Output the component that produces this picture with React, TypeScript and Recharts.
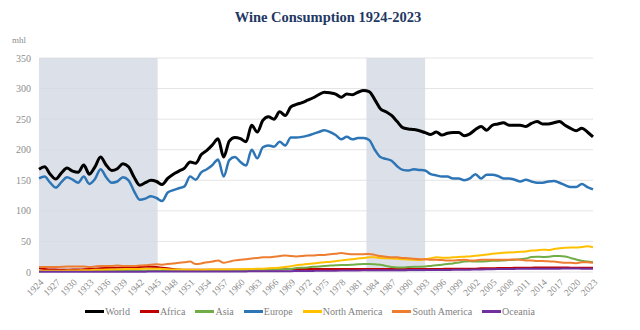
import React from 'react';
import { LineChart, Line, XAxis, YAxis, CartesianGrid, ReferenceArea } from 'recharts';

const years = [
  1924, 1925, 1926, 1927, 1928, 1929, 1930, 1931, 1932, 1933,
  1934, 1935, 1936, 1937, 1938, 1939, 1940, 1941, 1942, 1943,
  1944, 1945, 1946, 1947, 1948, 1949, 1950, 1951, 1952, 1953,
  1954, 1955, 1956, 1957, 1958, 1959, 1960, 1961, 1962, 1963,
  1964, 1965, 1966, 1967, 1968, 1969, 1970, 1971, 1972, 1973,
  1974, 1975, 1976, 1977, 1978, 1979, 1980, 1981, 1982, 1983,
  1984, 1985, 1986, 1987, 1988, 1989, 1990, 1991, 1992, 1993,
  1994, 1995, 1996, 1997, 1998, 1999, 2000, 2001, 2002, 2003,
  2004, 2005, 2006, 2007, 2008, 2009, 2010, 2011, 2012, 2013,
  2014, 2015, 2016, 2017, 2018, 2019, 2020, 2021, 2022, 2023,
];

const world = [
  168, 172, 160, 152, 162, 170, 165, 163, 175, 160,
  172, 188, 175, 166, 169, 177, 172, 155, 142, 146,
  150, 148, 143, 153, 160, 165, 170, 180, 178, 192,
  199, 208, 218, 188, 214, 220, 218, 213, 240, 229,
  248, 254, 250, 262, 256, 270, 274, 277, 281, 285,
  290, 294, 293, 291, 286, 291, 290, 294, 297, 295,
  282, 267, 262, 256, 246, 236, 234, 233, 231, 228,
  225, 229, 224, 227, 228, 228, 223, 226, 233, 238,
  232, 240, 242, 244, 240, 240, 240, 238, 243, 246,
  242, 242, 244, 246, 240, 235, 231, 235, 229, 221,
];

const africa = [
  6, 5, 4, 4, 3.5, 3.5, 4, 4, 4.5, 5,
  5.5, 6, 6.5, 7, 7, 7.5, 8, 8, 8, 8.5,
  8.5, 8, 7, 6, 5, 4, 3.5, 3.5, 3.5, 3.5,
  3.5, 3.5, 3.5, 3.5, 3.5, 3.5, 3.5, 3.5, 3.5, 4,
  4, 4, 4, 4, 4.5, 4.5, 5, 5, 5, 5,
  5, 5, 5, 5, 5, 5, 5, 5, 5, 5,
  5, 5, 5, 5, 5, 5, 5, 5, 5, 5,
  5, 5, 5, 5.5, 5.5, 5.5, 5.5, 5.5, 5.5, 6,
  6, 6, 6.5, 6.5, 6.5, 7, 7, 7, 7, 7.5,
  7.5, 7.5, 7.5, 7.5, 7.5, 7, 7, 7, 7, 7,
];

const asia = [
  1.5, 1.5, 1.5, 1.5, 1.5, 1.5, 1.5, 1.5, 1.5, 1.5,
  1.5, 1.5, 1.6, 1.6, 1.6, 1.6, 1.7, 1.7, 1.7, 1.7,
  1.8, 1.8, 1.8, 1.9, 1.9, 2, 2, 2, 2.1, 2.1,
  2.2, 2.3, 2.4, 2.5, 2.6, 2.7, 2.8, 3, 3.2, 3.4,
  3.6, 3.8, 4, 4.3, 4.6, 5, 6.5, 7, 7.5, 8.5,
  9, 10, 10.5, 11, 11.5, 11.5, 12, 12.5, 13, 13,
  12.5, 12, 10, 8, 7.5, 7.5, 8, 8.5, 8.5, 9,
  10, 11, 12, 13, 14, 15.5, 17, 17.5, 17, 17,
  17.5, 18.5, 18.5, 19, 19.5, 20, 21, 22, 24.5, 25,
  24.5, 25, 26, 26, 25.5, 23, 20.5, 18.5, 17, 16,
];

const europe = [
  153, 156, 146, 138, 147, 155, 151, 146, 156, 144,
  152, 168, 155, 146, 148, 155, 150, 132, 118, 120,
  124, 121, 116, 130, 134, 137, 140, 156, 151, 163,
  168, 175, 184, 156, 183, 188, 180, 174, 200, 186,
  204, 207, 205, 213, 207, 220, 220, 221, 223, 226,
  229, 232, 229, 224, 217, 221, 217, 219, 219, 216,
  200, 188, 185, 182, 173, 167, 166, 168, 167, 166,
  160, 158, 156, 156, 153, 153, 150, 153, 160, 153,
  159, 159, 157, 153, 153, 151, 148, 151, 148, 146,
  146, 148, 149, 146, 142, 139, 139, 144, 139, 135,
];

const northAmerica = [
  2, 2, 2, 2, 2, 2.5, 2.5, 2.5, 3, 3,
  3.5, 3.5, 4, 4, 4.5, 4.5, 5, 5, 5, 5.5,
  5.5, 5.5, 5, 4.5, 4, 4, 3.8, 3.8, 3.8, 3.8,
  3.8, 4, 4, 4, 4.2, 4.4, 4.6, 4.8, 5, 5.2,
  5.5, 6, 6.5, 7, 8, 9.5, 11, 12, 13, 14,
  15, 16, 16.5, 17.5, 19, 20, 21, 22, 23, 24,
  24, 23, 22.5, 22, 21.5, 21, 20.5, 20, 19.5, 21,
  22.5, 24, 23.5, 23.5, 24, 24.5, 25, 25.5, 26.5, 27.5,
  28.5, 30, 30.5, 31.5, 32, 32.5, 33, 33.5, 35, 35.5,
  36.5, 36, 37.5, 39, 39.5, 40, 40, 41, 42, 40.5,
];

const southAmerica = [
  8, 8, 8, 8, 8.5, 9, 9, 9, 9, 8,
  9, 10, 10, 10, 10.5, 10, 10, 10, 10.5, 11,
  12, 12.5, 12, 13, 14, 15, 16, 17, 13, 14,
  16, 17, 19, 15, 17, 19, 20, 21, 22, 23,
  24, 24, 25, 26, 27, 26, 25.5, 26, 27, 27,
  28, 28, 29, 30, 31, 30, 29, 29, 29, 29.5,
  28, 26, 25, 24, 24, 23, 22.5, 21.5, 21, 21,
  20, 20, 19.5, 19, 19, 19.5, 20, 19, 19, 20,
  20, 20, 20, 20, 20, 20.5, 20, 19, 19, 18,
  18, 17.5, 17, 16, 15, 15, 14.5, 16, 16, 15,
];

const oceania = [
  0.5, 0.5, 0.5, 0.5, 0.5, 0.5, 0.5, 0.5, 0.5, 0.5,
  0.6, 0.6, 0.6, 0.6, 0.6, 0.6, 0.6, 0.6, 0.6, 0.6,
  0.7, 0.7, 0.7, 0.7, 0.7, 0.7, 0.7, 0.7, 0.7, 0.7,
  0.8, 0.8, 0.9, 0.9, 1, 1, 1, 1, 1.1, 1.1,
  1.2, 1.2, 1.3, 1.3, 1.4, 1.4, 1.5, 1.6, 1.7, 1.8,
  2, 2, 2.1, 2.2, 2.3, 2.4, 2.5, 2.6, 2.7, 2.8,
  2.9, 3, 3, 3, 3, 3, 3.1, 3.1, 3.1, 3.1,
  3.2, 3.2, 3.3, 3.4, 3.5, 3.6, 3.7, 3.8, 4, 4.2,
  4.4, 4.6, 4.8, 5, 5, 5.1, 5.2, 5.2, 5.3, 5.3,
  5.4, 5.5, 5.5, 5.5, 5.6, 5.6, 5.6, 5.5, 5.5, 5.4,
];

const yearTicks = [
  1924, 1927, 1930, 1933, 1936, 1939, 1942, 1945, 1948, 1951, 1954, 1957,
  1960, 1963, 1966, 1969, 1972, 1975, 1978, 1981, 1984, 1987, 1990, 1993,
  1996, 1999, 2002, 2005, 2008, 2011, 2014, 2017, 2020, 2023,
];
const valueTicks = [0, 50, 100, 150, 200, 250, 300, 350];

// grey bands (war years, 1980s crisis)
const bands = [
  { from: 1924, to: 1945.2 },
  { from: 1982.5, to: 1993 },
];

const series = [
  { key: 'world', name: 'World', color: '#000000', width: 3, values: world },
  { key: 'africa', name: 'Africa', color: '#c00000', width: 2, values: africa },
  { key: 'asia', name: 'Asia', color: '#70ad47', width: 2, values: asia },
  { key: 'europe', name: 'Europe', color: '#2e75b6', width: 2.5, values: europe },
  { key: 'northAmerica', name: 'North America', color: '#ffc000', width: 2, values: northAmerica },
  { key: 'southAmerica', name: 'South America', color: '#ed7d31', width: 2, values: southAmerica },
  { key: 'oceania', name: 'Oceania', color: '#7030a0', width: 2, values: oceania },
];

const data = years.map((year, i) => {
  const row: Record<string, number> = { year };
  series.forEach((s) => {
    row[s.key] = s.values[i];
  });
  return row;
});

const FONT = '"Liberation Serif", "DejaVu Serif", serif';

const YearTick = (props: any) => {
  const { x, y, payload } = props;
  const tx = x + 5;
  const ty = y + 9;
  return (
    <text
      x={tx}
      y={ty}
      transform={`rotate(-45 ${tx} ${ty})`}
      textAnchor="end"
      fill="#8c8c8c"
      fontSize={9.5}
      fontFamily={FONT}
    >
      {payload.value}
    </text>
  );
};

const App = () => {
  return (
    <div
      style={{
        position: 'fixed',
        left: 0,
        top: 0,
        width: 640,
        height: 330,
        background: '#ffffff',
        fontFamily: FONT,
      }}
    >
      <div
        style={{
          position: 'absolute',
          left: 0,
          top: 9,
          width: 656,
          textAlign: 'center',
          fontSize: 14.5,
          fontWeight: 'bold',
          color: '#1f3864',
        }}
      >
        Wine Consumption 1924-2023
      </div>
      <div style={{ position: 'absolute', left: 12, top: 35, fontSize: 9, color: '#8c8c8c' }}>
        mhl
      </div>

      <LineChart width={640} height={330} data={data} margin={{ top: 58, right: 47, bottom: 28, left: 0 }}>
        <CartesianGrid vertical={false} stroke="#e4e4e4" />
        {bands.map((b) => (
          <ReferenceArea
            key={b.from}
            x1={b.from}
            x2={b.to}
            y1={0}
            y2={350}
            fill="#d3d9e3"
            fillOpacity={0.8}
            stroke="none"
          />
        ))}
        <XAxis
          dataKey="year"
          type="number"
          domain={[1924, 2023]}
          ticks={yearTicks}
          interval={0}
          height={30}
          tickSize={0}
          tickLine={false}
          axisLine={false}
          tick={<YearTick />}
        />
        <YAxis
          domain={[0, 350]}
          ticks={valueTicks}
          width={39}
          tickLine={false}
          axisLine={false}
          tick={{ fill: '#8c8c8c', fontSize: 10, fontFamily: FONT }}
        />
        {series.map((s) => (
          <Line
            key={s.key}
            dataKey={s.key}
            name={s.name}
            type="monotone"
            stroke={s.color}
            strokeWidth={s.width}
            dot={false}
            isAnimationActive={false}
          />
        ))}
      </LineChart>

      <div
        style={{
          position: 'absolute',
          left: 0,
          top: 306,
          width: 620,
          display: 'flex',
          justifyContent: 'center',
          gap: 10,
          fontSize: 10,
          color: '#7f7f7f',
        }}
      >
        {series.map((s) => (
          <div key={s.key} style={{ display: 'flex', alignItems: 'center' }}>
            <span style={{ display: 'inline-block', width: 19, height: 3, background: s.color }} />
            <span style={{ marginLeft: 1 }}>{s.name}</span>
          </div>
        ))}
      </div>
    </div>
  );
};

export default App;
